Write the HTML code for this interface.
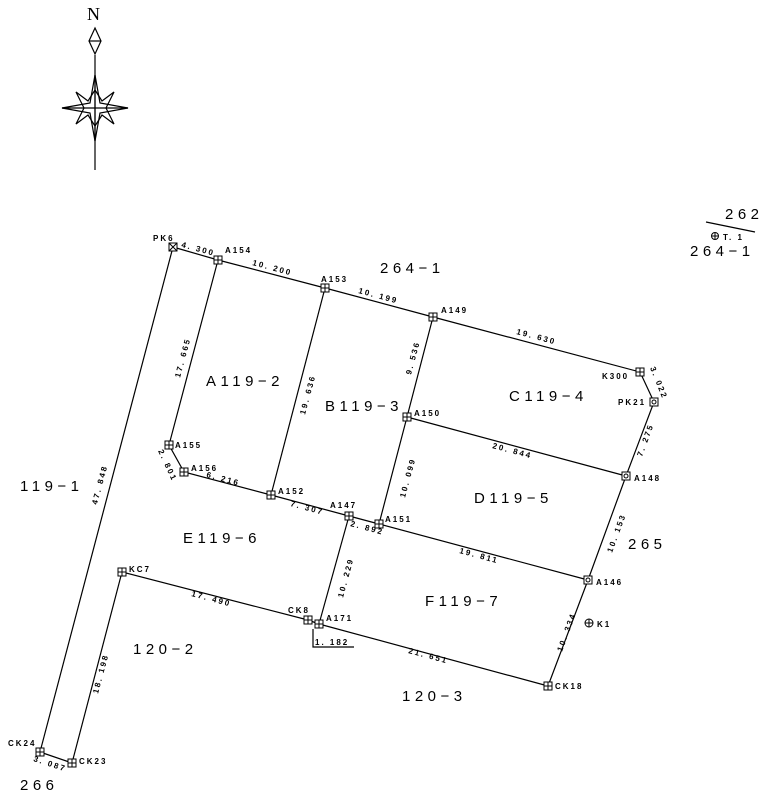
<!DOCTYPE html>
<html><head><meta charset="utf-8"><style>
html,body{margin:0;padding:0;background:#fff;}
svg{display:block;font-family:"Liberation Sans",sans-serif;}
.s{font-size:8px;font-weight:bold;letter-spacing:2px;}
.d{font-size:8px;font-weight:bold;letter-spacing:2px;}
.p{font-size:15px;letter-spacing:4.5px;}
</style></head><body>
<svg width="773" height="800" viewBox="0 0 773 800" xmlns="http://www.w3.org/2000/svg">
<g stroke="#000" stroke-width="1.2" fill="none">
<line x1="95" y1="55" x2="95" y2="170"/>
<polygon points="95,28 101,41 95,54 89,41"/>
<line x1="89" y1="41" x2="101" y2="41"/>
<polygon points="95,75 100,103 128,108 100,113 95,141 90,113 62,108 90,103"/>
<polygon points="95,90 102,101 114,92 106,108 114,124 102,115 95,126 88,115 76,124 84,108 76,92 88,101"/>
<line x1="62" y1="108" x2="128" y2="108"/>
<line x1="95" y1="75" x2="95" y2="141"/>
<polyline points="173,247 218,260 325,288 433,317 640,372 654,402 626,476 588,580 548,686"/>
<line x1="173" y1="247" x2="40" y2="752"/>
<polyline points="218,260 169,445 184,472 271,495 349,516 379,524 588,580"/>
<line x1="325" y1="288" x2="271" y2="495"/>
<polyline points="433,317 407,417 379,524"/>
<line x1="407" y1="417" x2="626" y2="476"/>
<line x1="349" y1="516" x2="319" y2="624"/>
<polyline points="122,572 308,620 319,624 548,686"/>
<line x1="122" y1="572" x2="72" y2="763"/>
<line x1="40" y1="752" x2="72" y2="763"/>
<polyline points="313,629 313,647 354,647"/>
<line x1="706" y1="222" x2="755" y2="232"/>
</g>
<g stroke="#000" stroke-width="1" fill="#fff">
<rect x="214" y="256" width="8" height="8"/><path d="M218 256v8M214 260h8"/>
<rect x="321" y="284" width="8" height="8"/><path d="M325 284v8M321 288h8"/>
<rect x="429" y="313" width="8" height="8"/><path d="M433 313v8M429 317h8"/>
<rect x="636" y="368" width="8" height="8"/><path d="M640 368v8M636 372h8"/>
<rect x="403" y="413" width="8" height="8"/><path d="M407 413v8M403 417h8"/>
<rect x="165" y="441" width="8" height="8"/><path d="M169 441v8M165 445h8"/>
<rect x="180" y="468" width="8" height="8"/><path d="M184 468v8M180 472h8"/>
<rect x="267" y="491" width="8" height="8"/><path d="M271 491v8M267 495h8"/>
<rect x="345" y="512" width="8" height="8"/><path d="M349 512v8M345 516h8"/>
<rect x="375" y="520" width="8" height="8"/><path d="M379 520v8M375 524h8"/>
<rect x="118" y="568" width="8" height="8"/><path d="M122 568v8M118 572h8"/>
<rect x="304" y="616" width="8" height="8"/><path d="M308 616v8M304 620h8"/>
<rect x="315" y="620" width="8" height="8"/><path d="M319 620v8M315 624h8"/>
<rect x="544" y="682" width="8" height="8"/><path d="M548 682v8M544 686h8"/>
<rect x="68" y="759" width="8" height="8"/><path d="M72 759v8M68 763h8"/>
<rect x="36" y="748" width="8" height="8"/><path d="M40 748v8M36 752h8"/>
<rect x="169" y="243" width="8" height="8"/><path d="M169 243l8 8M177 243l-8 8"/>
<rect x="650" y="398" width="8" height="8"/><circle cx="654" cy="402" r="2"/>
<rect x="622" y="472" width="8" height="8"/><circle cx="626" cy="476" r="2"/>
<rect x="584" y="576" width="8" height="8"/><circle cx="588" cy="580" r="2"/>
<circle cx="589" cy="623" r="4"/><path d="M585 623h8M589 619v8"/>
<circle cx="715" cy="236" r="3.5"/><path d="M711.5 236h7M715 232.5v7"/>
</g>
<g fill="#000">
<text x="87" y="20" font-size="18" font-family="Liberation Serif">N</text>
<text class="s" x="153" y="241">PK6</text>
<text class="s" x="225" y="253">A154</text>
<text class="s" x="321" y="282">A153</text>
<text class="s" x="441" y="313">A149</text>
<text class="s" x="602" y="379">K300</text>
<text class="s" x="618" y="405">PK21</text>
<text class="s" x="634" y="481">A148</text>
<text class="s" x="596" y="585">A146</text>
<text class="s" x="597" y="627">K1</text>
<text class="s" x="414" y="416">A150</text>
<text class="s" x="175" y="448">A155</text>
<text class="s" x="191" y="471">A156</text>
<text class="s" x="278" y="494">A152</text>
<text class="s" x="330" y="508">A147</text>
<text class="s" x="385" y="522">A151</text>
<text class="s" x="129" y="572">KC7</text>
<text class="s" x="288" y="613">CK8</text>
<text class="s" x="326" y="621">A171</text>
<text class="s" x="555" y="689">CK18</text>
<text class="s" x="79" y="764">CK23</text>
<text class="s" x="8" y="746">CK24</text>
<text class="s" x="723" y="240">T. 1</text>
<text class="d" transform="translate(181,247) rotate(15)">4. 300</text>
<text class="d" transform="translate(252,265) rotate(15)">10. 200</text>
<text class="d" transform="translate(358,293) rotate(15)">10. 199</text>
<text class="d" transform="translate(516,334) rotate(15)">19. 630</text>
<text class="d" transform="translate(492,448) rotate(15)">20. 844</text>
<text class="d" transform="translate(459,553) rotate(15)">19. 811</text>
<text class="d" transform="translate(206,477) rotate(15)">6. 216</text>
<text class="d" transform="translate(290,506) rotate(15)">7. 307</text>
<text class="d" transform="translate(350,526) rotate(15)">2. 892</text>
<text class="d" transform="translate(191,596) rotate(15)">17. 490</text>
<text class="d" transform="translate(408,653) rotate(15)">21. 651</text>
<text class="d" transform="translate(33,761) rotate(18)">3. 087</text>
<text class="d" x="315" y="645">1. 182</text>
<text class="d" transform="translate(180,378) rotate(-75)">17. 665</text>
<text class="d" transform="translate(305,415) rotate(-75)">19. 636</text>
<text class="d" transform="translate(97,505) rotate(-75)">47. 848</text>
<text class="d" transform="translate(411,375) rotate(-75)">9. 536</text>
<text class="d" transform="translate(405,498) rotate(-75)">10. 099</text>
<text class="d" transform="translate(343,598) rotate(-75)">10. 229</text>
<text class="d" transform="translate(98,694) rotate(-75)">18. 198</text>
<text class="d" transform="translate(612,553) rotate(-70)">10. 153</text>
<text class="d" transform="translate(642,457) rotate(-70)">7. 275</text>
<text class="d" transform="translate(562,652) rotate(-70)">10. 334</text>
<text class="d" transform="translate(650,368) rotate(68)">3. 022</text>
<text class="d" transform="translate(158,451) rotate(65)">2. 801</text>
<text class="p" x="206" y="386">A119−2</text>
<text class="p" x="325" y="411">B119−3</text>
<text class="p" x="509" y="401">C119−4</text>
<text class="p" x="474" y="503">D119−5</text>
<text class="p" x="183" y="543">E119−6</text>
<text class="p" x="425" y="606">F119−7</text>
<text class="p" x="380" y="273">264−1</text>
<text class="p" x="20" y="491">119−1</text>
<text class="p" x="628" y="549">265</text>
<text class="p" x="133" y="654">120−2</text>
<text class="p" x="402" y="701">120−3</text>
<text class="p" x="725" y="219">262</text>
<text class="p" x="690" y="256">264−1</text>
<text class="p" x="20" y="790">266</text>
</g>
</svg>
</body></html>
